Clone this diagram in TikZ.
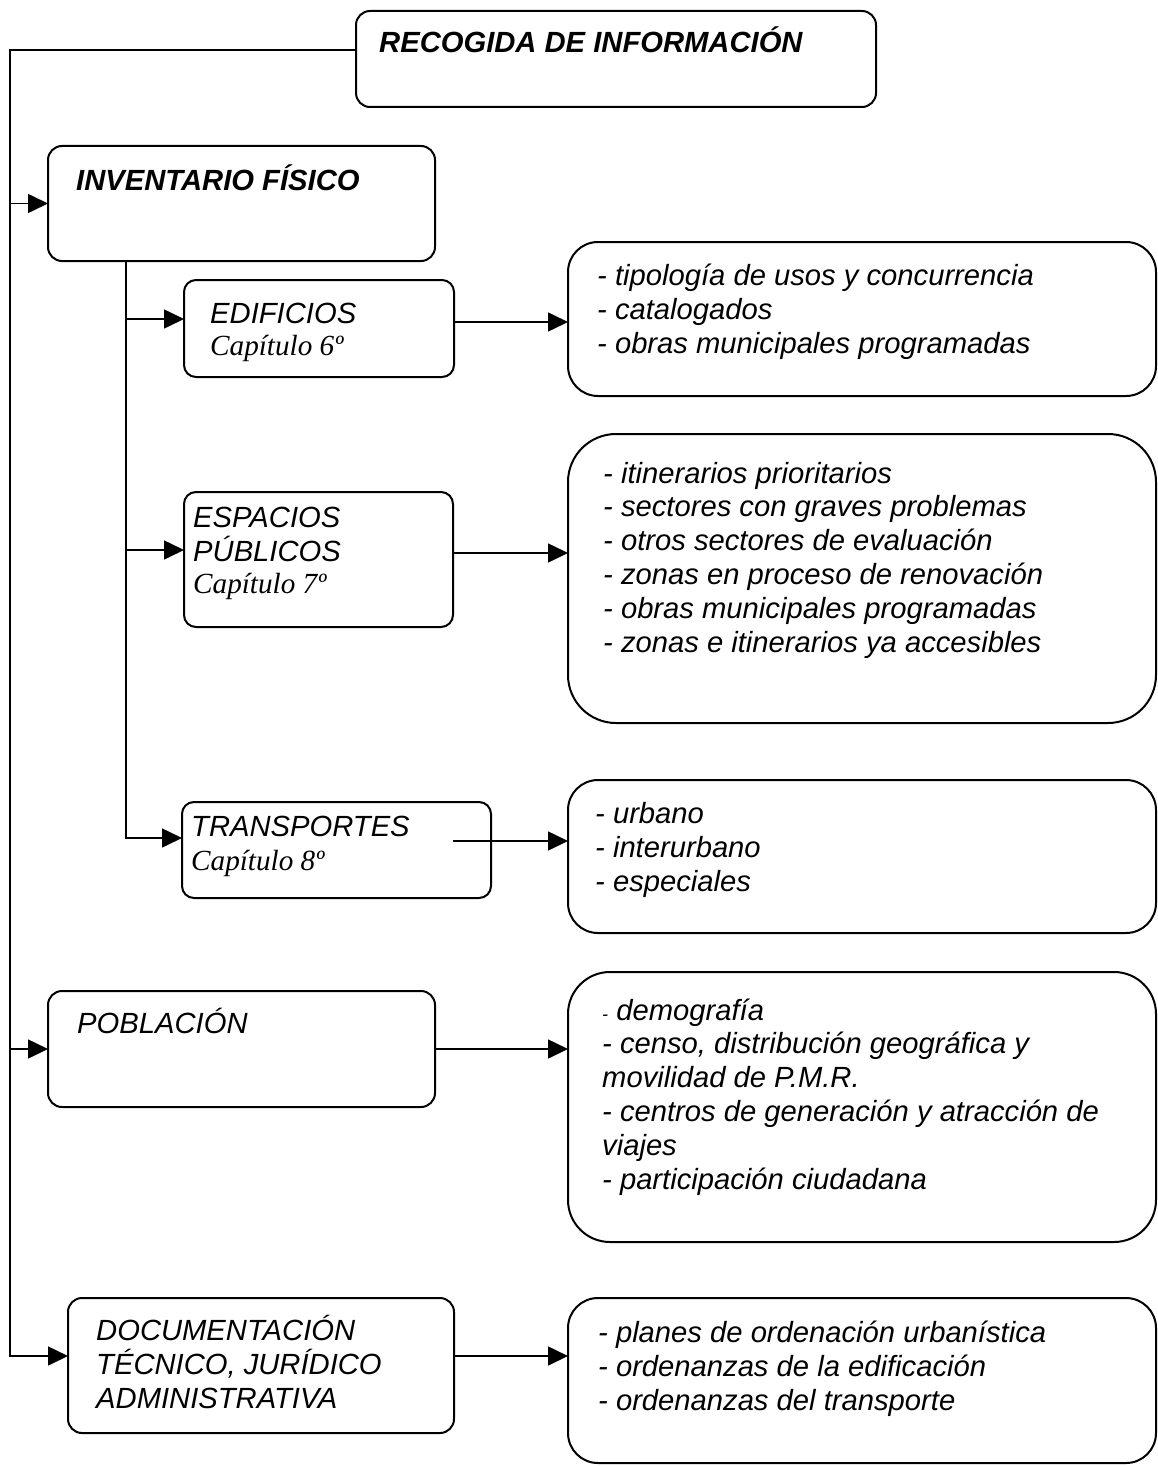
\documentclass[tikz,border=0pt]{standalone}
\usepackage{fontspec}
\setmainfont{Liberation Sans}
\newfontfamily\capfont{Liberation Serif}
\usetikzlibrary{arrows.meta, positioning, calc}

\begin{document}
\begin{tikzpicture}[x=1pt, y=-1pt,
  box/.style={draw, line width=2pt, rounded corners=14pt, anchor=north west, inner sep=0pt, outer sep=0pt},
  listbox/.style={box, rounded corners=30pt, minimum width=588pt},
  txt/.style={anchor=base west, inner sep=0pt, align=left, font=\fontsize{29.2}{33.8}\selectfont\itshape},
  head/.style={txt, font=\fontsize{29.2}{33.8}\selectfont\bfseries\itshape},
  conn/.style={line width=1.6pt},
  arr/.style={conn, -{Triangle[length=20pt, width=19pt]}}]
  \useasboundingbox (0,0) rectangle (1157,1466);

  % left column
  \node[box, minimum width=520pt, minimum height=96pt] (recogida) at (356,11) {};
  \node[box, minimum width=387pt, minimum height=115pt] (inventario) at (48,146) {};
  \node[box, rounded corners=12pt, minimum width=270pt, minimum height=97pt] (edificios) at (184,280) {};
  \node[box, rounded corners=12pt, minimum width=269pt, minimum height=135pt] (espacios) at (184,492) {};
  \node[box, rounded corners=12pt, minimum width=309pt, minimum height=96pt] (transportes) at (182,802) {};
  \node[box, minimum width=387pt, minimum height=116pt] (poblacion) at (48,991) {};
  \node[box, minimum width=386pt, minimum height=135pt] (documentacion) at (68,1298) {};

  % right column
  \node[listbox, minimum height=154pt] (usos) at (568,242) {};
  \node[listbox, rounded corners=48pt, minimum height=289pt] (itinerarios) at (568,434) {};
  \node[listbox, minimum height=153pt] (urbano) at (568,780) {};
  \node[listbox, rounded corners=42pt, minimum height=270pt] (demografia) at (568,972) {};
  \node[listbox, minimum height=165pt] (planes) at (568,1298) {};

  % texts (placed at the baseline of their last line)
  \node[head] (recogidaT) at (379,53) {RECOGIDA DE INFORMACIÓN};
  \node[head] (inventarioT) at (76,190) {INVENTARIO FÍSICO};
  \node[txt] (edificiosT) at (210,355) {EDIFICIOS\\[-2pt]{\capfont Capítulo 6º}};
  \node[txt] (espaciosT) at (193,593) {ESPACIOS\\PÚBLICOS\\[-2pt]{\capfont Capítulo 7º}};
  \node[txt] (transportesT) at (191,870) {TRANSPORTES\\{\capfont Capítulo 8º}};
  \node[txt] (poblacionT) at (77,1033) {POBLACIÓN};
  \node[txt] (documentacionT) at (96,1408) {DOCUMENTACIÓN\\TÉCNICO, JURÍDICO\\ADMINISTRATIVA};

  \node[txt] (usosT) at (597,353) {- tipología de usos y concurrencia\\- catalogados\\- obras municipales programadas};
  \node[txt] (itinerariosT) at (603,652) {- itinerarios prioritarios\\- sectores con graves problemas\\- otros sectores de evaluación\\- zonas en proceso de renovación\\- obras municipales programadas\\- zonas e itinerarios ya accesibles};
  \node[txt] (urbanoT) at (595,891) {- urbano\\- interurbano\\- especiales};
  \node[txt] (demografiaT) at (602,1189) {{\fontsize{18}{20}\selectfont -} demografía\\- censo, distribución geográfica y\\movilidad de P.M.R.\\- centros de generación y atracción de\\viajes\\- participación ciudadana};
  \node[txt] (planesT) at (598,1410) {- planes de ordenación urbanística\\- ordenanzas de la edificación\\- ordenanzas del transporte};

  % spine
  \coordinate (spine) at (10,0);
  \coordinate (docIn) at ([yshift=9.5pt]documentacion.west);
  \draw[arr] ([yshift=9pt]recogida.west) -| (spine |- docIn) -- (docIn);
  \draw[arr] (spine |- inventario.west) -- (inventario.west);
  \draw[arr] (spine |- poblacion.west) -- (poblacion.west);

  % trunk under inventario
  \coordinate (trunk) at ([xshift=78pt]inventario.south west);
  \draw[arr] (trunk) |- ([yshift=9.5pt]edificios.west);
  \draw[arr] (trunk) |- ([yshift=9.5pt]espacios.west);
  \draw[arr] (trunk) |- ([yshift=12pt]transportes.west);

  % to the lists
  \coordinate (edifOut) at ([yshift=6.5pt]edificios.east);
  \coordinate (espOut) at ([yshift=6.5pt]espacios.east);
  \coordinate (transOut) at ([xshift=-38pt, yshift=9pt]transportes.east);
  \draw[arr] (edifOut) -- (edifOut -| usos.west);
  \draw[arr] (espOut) -- (espOut -| itinerarios.west);
  \draw[arr] (transOut) -- (transOut -| urbano.west);
  \draw[arr] (poblacion.east) -- (poblacion.east -| demografia.west);
  \draw[arr] (docIn -| documentacion.east) -- (docIn -| planes.west);
\end{tikzpicture}
\end{document}
